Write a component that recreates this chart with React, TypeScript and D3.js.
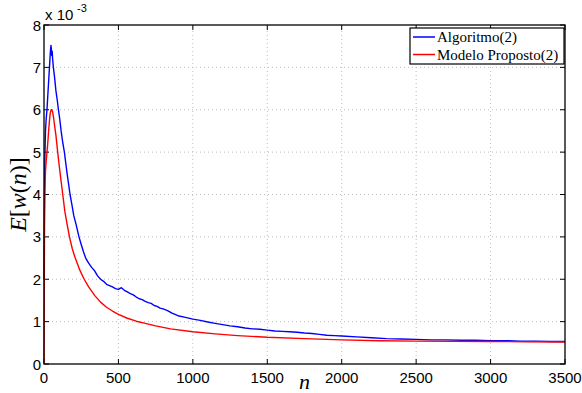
import React from 'react';
import * as d3 from 'd3';

// values in units of 1e-3
const algoritmo: [number, number][] = [
  [0, 2.0], [3, 3.8], [6, 4.9], [10, 5.5], [15, 5.8], [20, 6.0], [25, 6.3], [30, 6.6], [35, 6.9], [40, 7.2],
  [44, 7.42], [47, 7.52], [50, 7.4], [52, 7.28], [55, 7.38], [58, 7.2], [63, 7.0], [70, 6.8], [80, 6.45],
  [90, 6.2], [97, 6.0], [105, 5.8], [115, 5.5], [125, 5.25], [137, 5.0], [146, 4.75], [155, 4.5], [165, 4.25],
  [175, 4.0], [188, 3.75], [200, 3.5], [215, 3.3], [235, 3.0], [250, 2.82], [265, 2.65], [280, 2.5],
  [300, 2.38], [320, 2.28], [340, 2.2], [360, 2.08], [380, 2.0], [400, 1.95], [420, 1.88], [440, 1.85],
  [460, 1.82], [480, 1.78], [500, 1.76], [520, 1.8], [540, 1.74], [560, 1.7], [580, 1.66], [600, 1.63],
  [620, 1.58], [640, 1.54], [660, 1.52], [680, 1.48], [700, 1.45], [720, 1.43], [740, 1.38], [760, 1.36],
  [780, 1.32], [800, 1.3], [830, 1.26], [860, 1.2], [900, 1.14], [950, 1.1], [1000, 1.06], [1050, 1.03],
  [1100, 0.99], [1150, 0.96], [1200, 0.93], [1250, 0.9], [1300, 0.88], [1350, 0.85], [1400, 0.83],
  [1450, 0.82], [1500, 0.8], [1550, 0.78], [1600, 0.77], [1650, 0.76], [1700, 0.75], [1750, 0.73],
  [1800, 0.72], [1850, 0.7], [1900, 0.68], [1950, 0.67], [2000, 0.66], [2100, 0.64], [2200, 0.62],
  [2300, 0.6], [2400, 0.59], [2500, 0.58], [2600, 0.57], [2700, 0.57], [2800, 0.56], [2900, 0.56],
  [3000, 0.55], [3100, 0.55], [3200, 0.54], [3300, 0.54], [3400, 0.53], [3500, 0.53],
];

const modelo: [number, number][] = [
  [0, 0], [1, 1.0], [2, 2.0], [3, 2.8], [4, 3.5], [6, 4.1], [10, 4.55], [15, 4.8], [20, 5.0], [25, 5.2],
  [30, 5.45], [36, 5.72], [42, 5.92], [48, 6.0], [52, 6.0], [58, 5.95], [65, 5.8], [72, 5.6], [80, 5.4],
  [92, 5.0], [100, 4.75], [110, 4.45], [126, 4.0], [140, 3.6], [155, 3.3], [171, 3.0], [190, 2.72],
  [210, 2.5], [240, 2.22], [270, 2.0], [300, 1.82], [340, 1.62], [380, 1.46], [420, 1.34], [460, 1.25],
  [500, 1.17], [560, 1.08], [620, 1.01], [680, 0.96], [750, 0.9], [850, 0.83], [1000, 0.76], [1150, 0.71],
  [1300, 0.67], [1500, 0.63], [1750, 0.6], [2000, 0.57], [2250, 0.55], [2500, 0.54], [2750, 0.535],
  [3000, 0.53], [3250, 0.525], [3500, 0.52],
];

const xTicks = [0, 500, 1000, 1500, 2000, 2500, 3000, 3500];
const yTicks = [0, 1, 2, 3, 4, 5, 6, 7, 8];
const legendLabels = ['Algoritmo(2)', 'Modelo Proposto(2)'];
const colors = ['#0000ff', '#ff0000'];

const W = 582;
const H = 393;
const m = { top: 25, right: 17, bottom: 29, left: 44 };

export default function App() {
  const x = d3.scaleLinear().domain([0, 3500]).range([m.left, W - m.right]);
  const y = d3.scaleLinear().domain([0, 8]).range([H - m.bottom, m.top]);
  const line = d3.line<[number, number]>().x(d => x(d[0])).y(d => y(d[1]));
  const x0 = x(0), x1 = x(3500), y0 = y(0), y1 = y(8);
  const font = 'Liberation Sans, Arial, sans-serif';
  const serif = 'Liberation Serif, Times New Roman, serif';
  const tl = 5;

  return (
    <svg width={W} height={H} style={{ position: 'absolute', left: 0, top: 0, background: '#fff' }}>
      <rect x={0} y={0} width={W} height={H} fill="#fff" />
      {/* grid */}
      {xTicks.slice(1, -1).map(t => (
        <line key={'gx' + t} x1={x(t)} x2={x(t)} y1={y0} y2={y1} stroke="#bdbdbd" strokeWidth={1} strokeDasharray="1,3" />
      ))}
      {yTicks.slice(1, -1).map(t => (
        <line key={'gy' + t} x1={x0} x2={x1} y1={y(t)} y2={y(t)} stroke="#bdbdbd" strokeWidth={1} strokeDasharray="1,3" />
      ))}
      {/* ticks inward on all sides */}
      {xTicks.map(t => (
        <g key={'tx' + t}>
          <line x1={x(t)} x2={x(t)} y1={y0} y2={y0 - tl} stroke="#000" />
          <line x1={x(t)} x2={x(t)} y1={y1} y2={y1 + tl} stroke="#000" />
          <text x={x(t)} y={y0 + 19} textAnchor="middle" fontFamily={font} fontSize={15}>{t}</text>
        </g>
      ))}
      {yTicks.map(t => (
        <g key={'ty' + t}>
          <line x1={x0} x2={x0 + tl} y1={y(t)} y2={y(t)} stroke="#000" />
          <line x1={x1} x2={x1 - tl} y1={y(t)} y2={y(t)} stroke="#000" />
          <text x={x0 - 3} y={y(t) + 5.5} textAnchor="end" fontFamily={font} fontSize={15}>{t}</text>
        </g>
      ))}
      {/* series */}
      <path d={line(algoritmo) || ''} fill="none" stroke={colors[0]} strokeWidth={1.4} strokeLinejoin="round" />
      <path d={line(modelo) || ''} fill="none" stroke={colors[1]} strokeWidth={1.4} strokeLinejoin="round" />
      {/* frame */}
      <rect x={x0} y={y1} width={x1 - x0} height={y0 - y1} fill="none" stroke="#000" strokeWidth={1.3} />
      {/* exponent */}
      <text x={x0 + 1} y={y1 - 5} fontFamily={font} fontSize={15}>x 10</text>
      <text x={x0 + 33} y={y1 - 13} fontFamily={font} fontSize={11}>-3</text>
      {/* legend */}
      <g>
        <rect x={410} y={28} width={154} height={36} fill="#fff" stroke="#000" strokeWidth={1.2} />
        {legendLabels.map((l, i) => (
          <g key={l}>
            <line x1={413} x2={435} y1={37 + i * 17.5} y2={37 + i * 17.5} stroke={colors[i]} strokeWidth={1.5} />
            <text x={437} y={42 + i * 17.5} fontFamily={serif} fontSize={15}>{l}</text>
          </g>
        ))}
      </g>
      {/* axis labels */}
      <text x={(x0 + x1) / 2} y={389} textAnchor="middle" fontFamily={serif} fontStyle="italic" fontSize={22}>n</text>
      <text transform={`translate(26, ${(y0 + y1) / 2}) rotate(-90)`} textAnchor="middle" fontFamily={serif} fontSize={24}>
        <tspan fontStyle="italic">E</tspan>[<tspan fontStyle="italic">w</tspan>(<tspan fontStyle="italic">n</tspan>)]
      </text>
    </svg>
  );
}
